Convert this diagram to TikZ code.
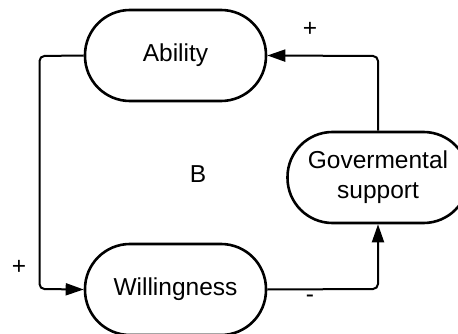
\documentclass[tikz,border=0pt]{standalone}
\usepackage{fontspec}
\setmainfont{Liberation Sans}
\usetikzlibrary{arrows.meta}
\begin{document}
\begin{tikzpicture}[x=1pt,y=-1pt,
  box/.style={draw, line width=2.6pt, rounded corners=45pt, minimum width=181pt, minimum height=91pt, inner sep=0pt, align=center, font=\fontsize{24.5}{30}\selectfont},
  link/.style={draw, line width=2pt, rounded corners=5pt, -{Triangle[length=18pt,width=12pt]}},
  sign/.style={font=\fontsize{24.5}{30}\selectfont}]
\useasboundingbox (0,0) rectangle (458,334);
\node[box] (ab) at (175.5,55.5) {Ability};
\node[box] (wi) at (175.5,289.5) {Willingness};
\node[box] (gs) at (378,177.5) {Govermental\\support};
\coordinate (c1) at (39.5,56);
\coordinate (c2) at (39.5,289);
\coordinate (c3) at (378,56);
\coordinate (c4) at (378,289);
\draw[link] (ab.west) -- (c1) -- (c2) -- (wi.west);
\draw[link] (gs.north) -- (c3) -- (ab.east);
\draw[link] (wi.east) -- (c4) -- (gs.south);
\node[sign] (p1) at (310,29) {+};
\node[sign] (p2) at (19,267) {+};
\node[sign] (m1) at (310,299) {-};
\node[sign] (B) at (198,174) {B};
\end{tikzpicture}
\end{document}
